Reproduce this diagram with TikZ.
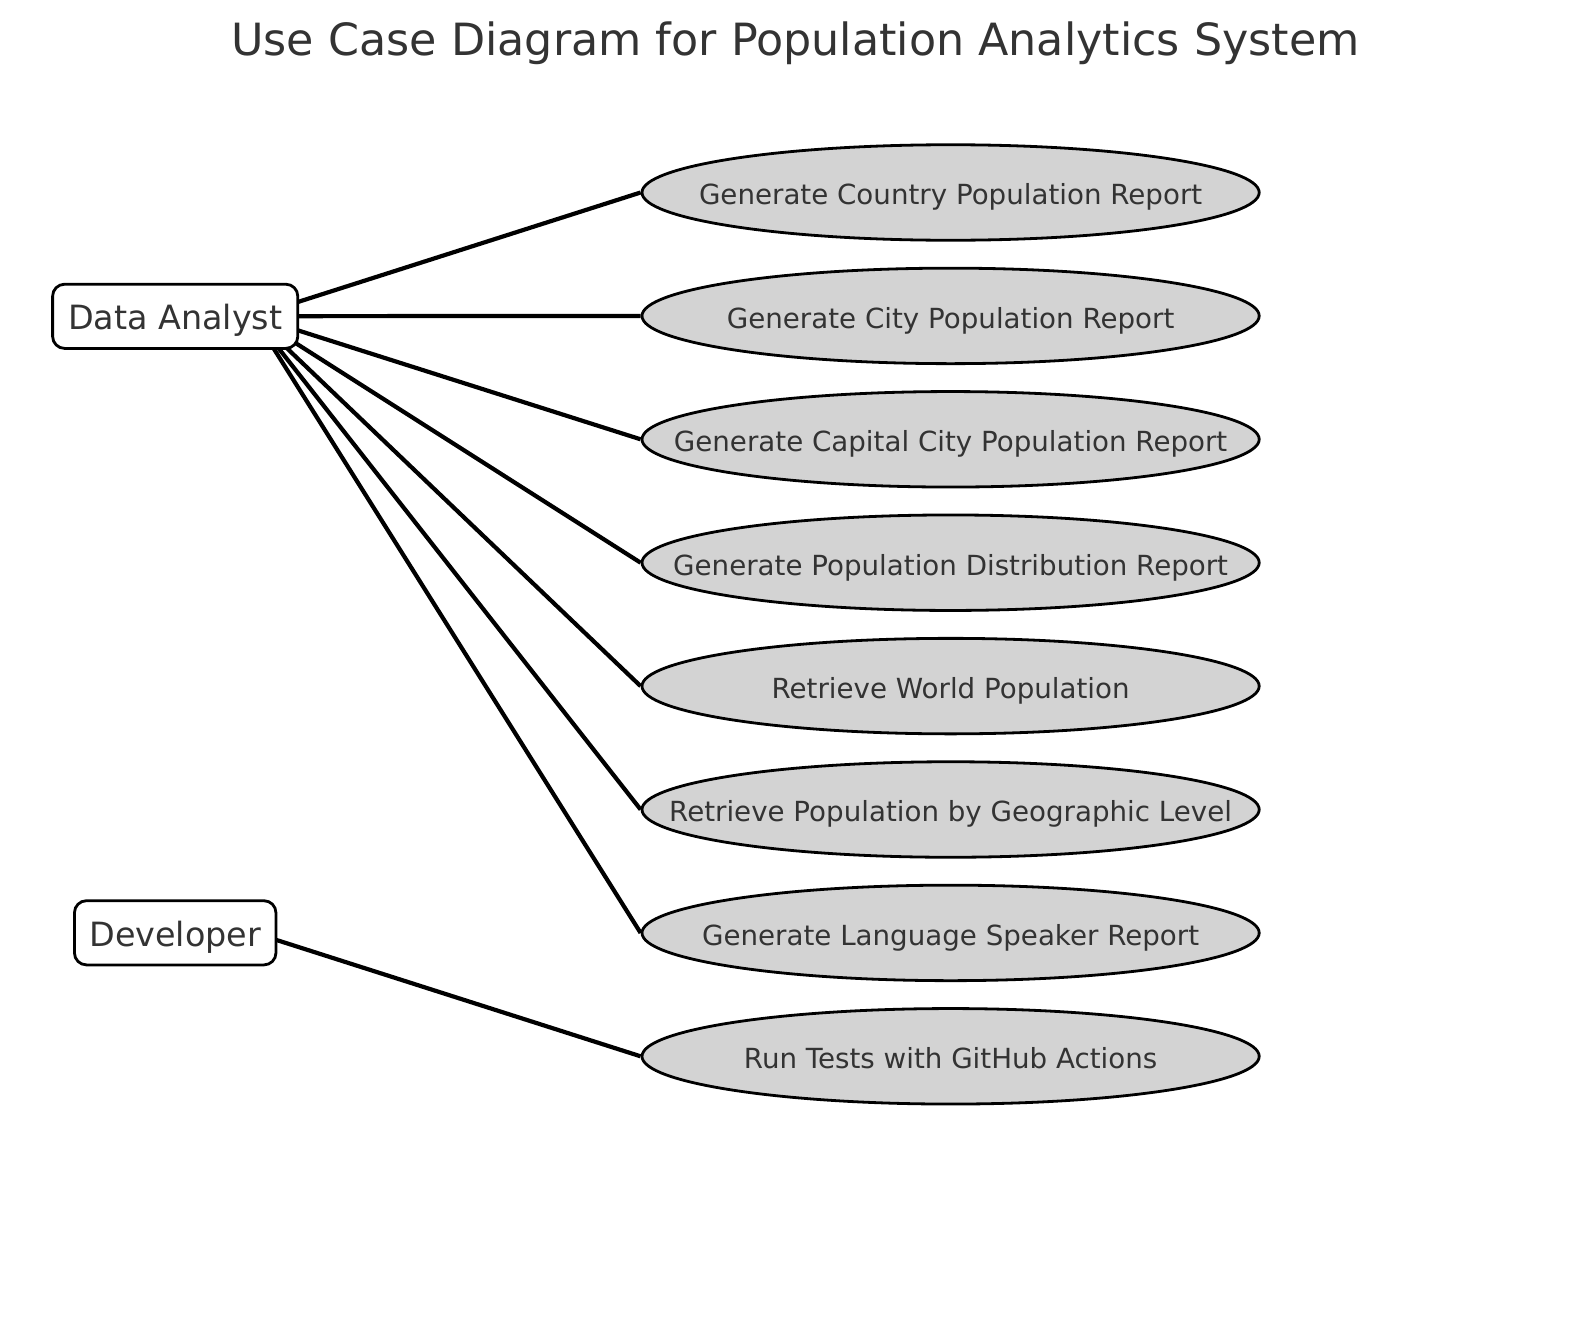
\documentclass[tikz,border=0pt]{standalone}
\usepackage{fontspec}
\setmainfont{DejaVu Sans}
\usetikzlibrary{shapes.geometric,backgrounds}
\definecolor{txt}{HTML}{333333}
\definecolor{ucfill}{HTML}{D3D3D3}
\newcommand\ucbox[1]{\makebox[0pt][c]{#1}}
\begin{document}
\begin{tikzpicture}[x=1pt,y=-1pt,
  usecase/.style={ellipse,draw=black,line width=2.8pt,fill=ucfill,
    minimum width=617.2pt,minimum height=95.5pt,inner sep=0pt,text=txt,
    font=\fontsize{27.7}{32}\selectfont,text height=24.6pt,text depth=0pt},
  actor/.style={rectangle,rounded corners=12pt,draw=black,line width=2.8pt,
    fill=white,minimum height=64.2pt,inner sep=0pt,text=txt,
    font=\fontsize{33.4}{38}\selectfont,text height=27.3pt,text depth=0pt},
  assoc/.style={line width=4.2pt,draw=black},
  titlestyle/.style={font=\fontsize{44.4}{52}\selectfont,text=txt,anchor=base,inner sep=0pt}]
\useasboundingbox (0,0) rectangle (1589,1322);

\node[titlestyle] (title) at (795.5,55.5) {Use Case Diagram for Population Analytics System};

\node[actor,minimum width=245.2pt] (da) at (175.2,316.3) {Data Analyst};
\node[actor,minimum width=201.5pt] (dev) at (175.2,932.8) {Developer};
\coordinate (dahub) at (253.4,316.2);
\coordinate (devhub) at (253.4,932.6);

\node[usecase] (uc1) at (950.6,192.5) {\ucbox{Generate Country Population Report}};
\node[usecase] (uc2) at (950.6,315.9) {\ucbox{Generate City Population Report}};
\node[usecase] (uc3) at (950.6,439.3) {\ucbox{Generate Capital City Population Report}};
\node[usecase] (uc4) at (950.6,562.7) {\ucbox{Generate Population Distribution Report}};
\node[usecase] (uc5) at (950.6,686.1) {\ucbox{Retrieve World Population}};
\node[usecase] (uc6) at (950.6,809.5) {\ucbox{Retrieve Population by Geographic Level}};
\node[usecase] (uc7) at (950.6,932.9) {\ucbox{Generate Language Speaker Report}};
\node[usecase] (uc8) at (950.6,1056.3) {\ucbox{Run Tests with GitHub Actions}};

\begin{scope}[on background layer]
  \fill[white] (0,0) rectangle (1589,1322);
  \foreach \u in {uc1,uc2,uc3,uc4,uc5,uc6,uc7} {
    \draw[assoc] (dahub) -- (\u.west);
  }
  \draw[assoc] (devhub) -- (uc8.west);
\end{scope}
\end{tikzpicture}
\end{document}
